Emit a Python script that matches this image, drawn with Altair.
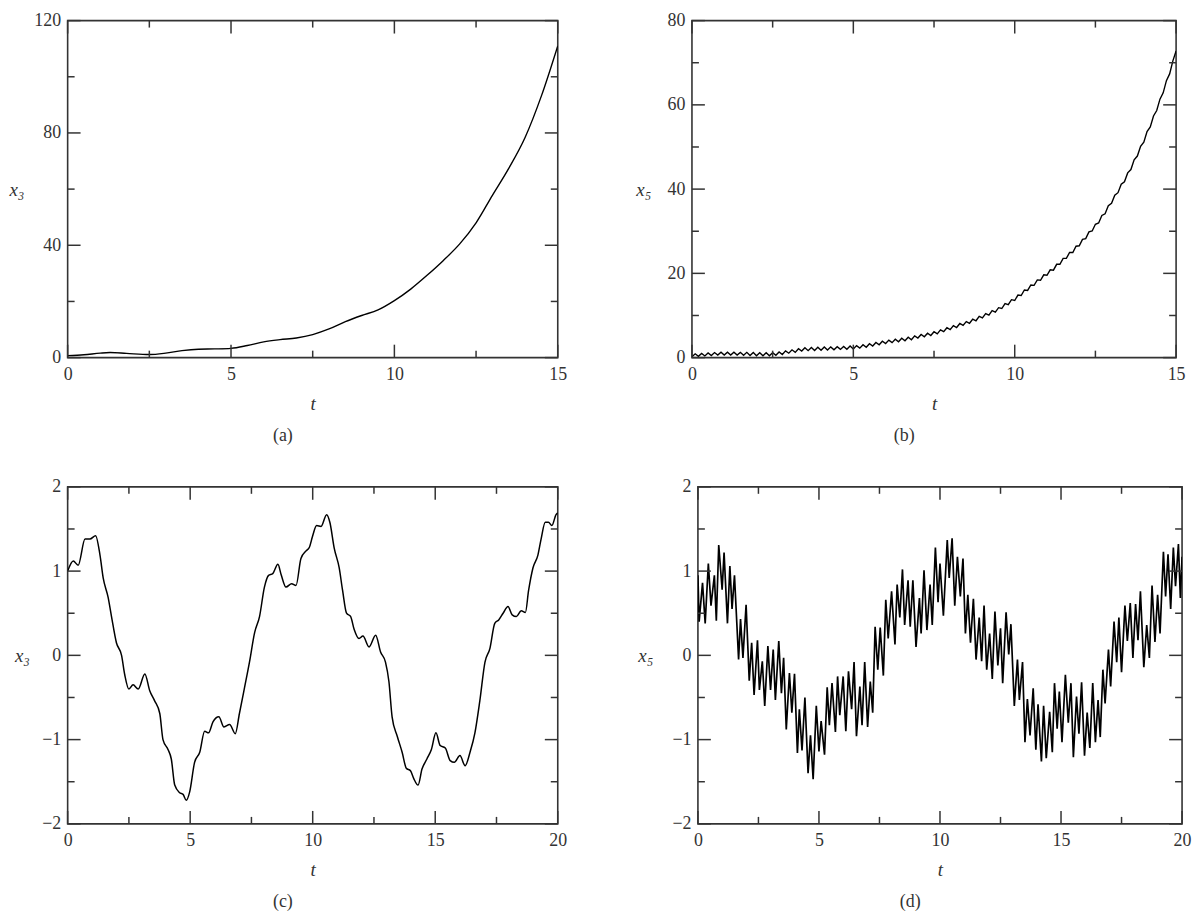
import altair as alt
import pandas as pd

FONT = "Liberation Serif"
INK = "#333333"
H = 339

# ---------------- panel (a): x3, long horizon ----------------
A_T = [0, 0.5, 1.0, 1.3, 1.8, 2.5, 3.0, 3.5, 4.0, 4.5, 5.0, 5.5, 6.0, 6.5, 7.0, 7.5,
       8.0, 8.5, 9.0, 9.5, 10.0, 10.5, 11.0, 11.5, 12.0, 12.5, 13.0, 13.5, 14.0, 14.5, 15.0]
A_Y = [0.7, 1.0, 1.6, 1.8, 1.5, 1.1, 1.6, 2.5, 3.0, 3.1, 3.3, 4.3, 5.6, 6.4, 7.0, 8.2,
       10.2, 12.8, 15.0, 17.0, 20.3, 24.4, 29.3, 34.6, 40.5, 48.0, 57.8, 67.4, 78.4, 93.2, 111.0]

# ---------------- panel (b): x5, long horizon ----------------
B_T = [0.0, 0.1, 0.2, 0.3, 0.4, 0.5, 0.6, 0.7, 0.8, 0.9, 1.0, 1.1, 1.2, 1.3, 1.4, 1.5, 1.6, 1.7, 1.8, 1.9,
       2.0, 2.1, 2.2, 2.3, 2.4, 2.5, 2.6, 2.7, 2.8, 2.9, 3.0, 3.1, 3.2, 3.3, 3.4, 3.5, 3.6, 3.7, 3.8, 3.9,
       4.0, 4.1, 4.2, 4.3, 4.4, 4.5, 4.6, 4.7, 4.8, 4.9, 5.0, 5.1, 5.2, 5.3, 5.4, 5.5, 5.6, 5.7, 5.8, 5.9,
       6.0, 6.1, 6.2, 6.3, 6.4, 6.5, 6.6, 6.7, 6.8, 6.9, 7.0, 7.1, 7.2, 7.3, 7.4, 7.5, 7.6, 7.7, 7.8, 7.9,
       8.0, 8.1, 8.2, 8.3, 8.4, 8.5, 8.6, 8.7, 8.8, 8.9, 9.0, 9.1, 9.2, 9.3, 9.4, 9.5, 9.6, 9.7, 9.8, 9.9,
       10.0, 10.1, 10.2, 10.3, 10.4, 10.5, 10.6, 10.7, 10.8, 10.9, 11.0, 11.1, 11.2, 11.3, 11.4, 11.5,
       11.6, 11.7, 11.8, 11.9, 12.0, 12.1, 12.2, 12.3, 12.4, 12.5, 12.6, 12.7, 12.8, 12.9, 13.0, 13.1,
       13.2, 13.3, 13.4, 13.5, 13.6, 13.7, 13.8, 13.9, 14.0, 14.1, 14.2, 14.3, 14.4, 14.5, 14.6, 14.7,
       14.8, 14.9, 15.0]
B_Y = [0.2, 0.9, 0.3, 1.0, 0.4, 1.1, 0.5, 1.2, 0.6, 1.3, 0.6, 1.3, 0.6, 1.3, 0.6, 1.25, 0.55, 1.25, 0.5, 1.2,
       0.45, 1.15, 0.45, 1.15, 0.45, 1.15, 0.55, 1.35, 0.75, 1.6, 1.05, 1.85, 1.25, 2.1, 1.55, 2.35, 1.65, 2.4, 1.7, 2.45,
       1.75, 2.5, 1.8, 2.55, 1.85, 2.6, 1.95, 2.65, 2.0, 2.75, 2.05, 2.85, 2.25, 3.05, 2.45, 3.3, 2.75, 3.6, 3.05, 3.9,
       3.35, 4.15, 3.55, 4.35, 3.75, 4.6, 4.0, 4.85, 4.25, 5.15, 4.65, 5.5, 4.95, 5.8, 5.25, 6.15, 5.65, 6.6, 6.15, 7.1,
       6.65, 7.6, 7.15, 8.1, 7.65, 8.55, 8.15, 9.15, 8.75, 9.8, 9.45, 10.45, 10.1, 11.15, 10.8, 11.85, 11.65, 12.8, 12.55, 13.75,
       13.55, 14.85, 14.75, 16.05, 15.95, 17.25, 17.15, 18.45, 18.35, 19.65, 19.55, 20.85, 20.75, 22.15, 22.15, 23.55,
       23.55, 24.95, 24.95, 26.45, 26.55, 28.05, 28.25, 29.85, 30.05, 31.65, 31.95, 33.75, 34.15, 36.05, 36.65, 38.55,
       39.15, 41.15, 41.75, 43.85, 44.65, 46.95, 47.85, 50.15, 51.15, 53.65, 54.75, 57.35, 58.65, 61.35, 62.85, 65.75,
       67.35, 70.45, 72.8]

# ---------------- panel (c): x3, periodic ----------------
C_T = [0, 0.23, 0.43, 0.71, 0.91, 1.14, 1.32, 1.45, 1.65, 1.79, 1.99, 2.2, 2.33, 2.5, 2.67, 2.88, 3.15, 3.35,
       3.55, 3.76, 3.89, 4.1, 4.23, 4.37, 4.57, 4.71, 4.84, 4.98, 5.18, 5.39, 5.59, 5.75, 5.93, 6.17, 6.38,
       6.61, 6.84, 7.01, 7.22, 7.42, 7.63, 7.83, 8.03, 8.2, 8.37, 8.58, 8.71, 8.91, 9.14, 9.32, 9.52, 9.73,
       9.86, 10.0, 10.16, 10.34, 10.57, 10.7, 10.88, 11.08, 11.22, 11.38, 11.55, 11.69, 11.89, 12.05, 12.3,
       12.57, 12.77, 12.97, 13.11, 13.24, 13.45, 13.65, 13.82, 13.99, 14.12, 14.3, 14.46, 14.66, 14.84,
       15.03, 15.2, 15.41, 15.61, 15.78, 16.01, 16.22, 16.42, 16.62, 16.82, 17.03, 17.23, 17.43, 17.59,
       17.77, 17.97, 18.14, 18.31, 18.51, 18.68, 18.81, 18.99, 19.19, 19.32, 19.49, 19.62, 19.76, 19.93, 20.0]
C_Y = [1.0, 1.12, 1.07, 1.38, 1.38, 1.42, 1.19, 0.92, 0.69, 0.46, 0.15, 0.0, -0.23, -0.40, -0.35, -0.40,
       -0.22, -0.42, -0.54, -0.69, -1.0, -1.12, -1.23, -1.54, -1.63, -1.65, -1.72, -1.62, -1.27, -1.15,
       -0.90, -0.92, -0.79, -0.73, -0.85, -0.82, -0.93, -0.69, -0.38, -0.08, 0.27, 0.46, 0.81, 0.95, 0.97,
       1.08, 0.96, 0.81, 0.85, 0.83, 1.15, 1.24, 1.28, 1.42, 1.54, 1.53, 1.67, 1.58, 1.27, 1.04, 0.77, 0.5,
       0.46, 0.31, 0.2, 0.23, 0.1, 0.24, 0.04, -0.08, -0.31, -0.73, -0.96, -1.15, -1.34, -1.37, -1.46,
       -1.54, -1.35, -1.23, -1.12, -0.92, -1.07, -1.1, -1.25, -1.27, -1.19, -1.31, -1.15, -0.92, -0.54,
       -0.08, 0.08, 0.38, 0.42, 0.5, 0.58, 0.48, 0.46, 0.53, 0.51, 0.77, 1.04, 1.19, 1.38, 1.58, 1.58,
       1.54, 1.67, 1.69]

# ---------------- panel (d): x5, periodic ----------------
D_T = [0.0, 0.05, 0.19, 0.30, 0.43, 0.54, 0.68, 0.76, 0.86, 1.00, 1.08, 1.22, 1.32, 1.41, 1.51, 1.68,
       1.76, 1.86, 1.99, 2.12, 2.22, 2.32, 2.46, 2.54, 2.66, 2.76, 2.89, 3.00, 3.11, 3.20, 3.34, 3.45,
       3.54, 3.65, 3.78, 3.88, 3.99, 4.11, 4.19, 4.30, 4.42, 4.55, 4.65, 4.76, 4.89, 5.00, 5.09, 5.23,
       5.34, 5.43, 5.54, 5.68, 5.77, 5.86, 6.00, 6.11, 6.22, 6.35, 6.45, 6.55, 6.69, 6.78, 6.89, 7.01,
       7.12, 7.22, 7.32, 7.43, 7.53, 7.66, 7.76, 7.86, 8.00, 8.14, 8.23, 8.34, 8.45, 8.54, 8.68, 8.77,
       8.88, 9.01, 9.15, 9.22, 9.34, 9.46, 9.59, 9.68, 9.81, 9.92, 10.00,
       10.14, 10.30, 10.38, 10.50, 10.61, 10.72, 10.84, 10.95, 11.05, 11.15, 11.26, 11.38, 11.49, 11.62,
       11.72, 11.82, 11.93, 12.05, 12.16, 12.27, 12.39, 12.50, 12.59, 12.73, 12.84, 12.93, 13.07, 13.20,
       13.28, 13.41, 13.51, 13.61, 13.72, 13.85, 13.96, 14.05, 14.19, 14.28, 14.39, 14.53, 14.64, 14.73,
       14.84, 14.93, 15.04, 15.18, 15.30, 15.41, 15.51, 15.64, 15.74, 15.85, 15.97, 16.08, 16.19, 16.31,
       16.42, 16.53, 16.62, 16.73, 16.82, 16.96, 17.05, 17.19, 17.30, 17.39, 17.50, 17.64, 17.74, 17.86,
       17.97, 18.08, 18.18, 18.28, 18.42, 18.54, 18.65, 18.76, 18.88, 18.99, 19.09, 19.23, 19.32, 19.42,
       19.53, 19.64, 19.73, 19.85, 19.93, 20.00]
D_Y = [0.95, 0.40, 0.86, 0.38, 1.09, 0.59, 0.95, 0.41, 1.31, 0.78, 1.22, 0.38, 1.06, 0.55, 0.95, -0.05,
       0.43, -0.03, 0.60, -0.30, 0.15, -0.47, 0.18, -0.41, -0.07, -0.60, 0.11, -0.41, 0.07, -0.53, 0.17, -0.45,
       -0.03, -0.88, -0.21, -0.68, -0.22, -1.16, -0.64, -1.13, -0.50, -1.40, -0.95, -1.47, -0.60, -1.14, -0.78, -1.18,
       -0.38, -0.83, -0.33, -0.91, -0.25, -0.71, -0.25, -0.90, -0.19, -0.64, -0.08, -0.96, -0.37, -0.83, -0.08, -0.85,
       -0.31, -0.68, 0.34, -0.17, 0.33, -0.24, 0.66, 0.20, 0.76, 0.13, 0.84, 0.45, 1.02, 0.36, 0.89, 0.34,
       0.89, 0.10, 0.68, 0.26, 1.01, 0.30, 0.84, 0.36, 1.28, 0.63, 1.09,
       0.47, 1.37, 0.92, 1.39, 0.59, 1.17, 0.70, 1.15, 0.26, 0.72, 0.15, 0.67, -0.05, 0.45,
       -0.07, 0.59, -0.17, 0.26, -0.28, 0.52, -0.12, 0.32, -0.33, 0.51, 0.01, 0.37, -0.60, -0.05,
       -0.53, -0.08, -1.03, -0.52, -0.95, -0.39, -1.12, -0.58, -1.26, -0.60, -1.22, -0.67, -1.15, -0.33,
       -0.87, -0.43, -1.03, -0.23, -0.80, -0.33, -1.21, -0.49, -0.93, -0.32, -1.19, -0.68, -1.10, -0.33,
       -1.03, -0.53, -0.97, -0.17, -0.57, 0.07, -0.37, 0.40, -0.08, 0.45, -0.20, 0.59, 0.17, 0.62,
       -0.03, 0.61, 0.18, 0.76, -0.14, 0.36, -0.03, 0.83, 0.16, 0.72, 0.26, 1.23, 0.70, 1.20,
       0.55, 1.28, 0.82, 1.32, 0.68, 1.17]

# ---------------- axis tick values ----------------
X15_MAJOR = [0, 5, 10, 15]
X15_MINOR = [2.5, 7.5, 12.5]
X20_MAJOR = [0, 5, 10, 15, 20]
X20_MINOR = [2.5, 7.5, 12.5, 17.5]
YA_MAJOR = [0, 40, 80, 120]
YA_MINOR = [20, 60, 100]
YB_MAJOR = [0, 20, 40, 60, 80]
YB_MINOR = [10, 30, 50, 70]
YC_MAJOR = [-2, -1, 0, 1, 2]
YC_MINOR = [-1.5, -0.5, 0.5, 1.5]

MAJOR_LEN = 13
MINOR_LEN = 7


def panel(t, v, W, xdom, xmaj, xmin, ydom, ymaj, ymin, ytitle, ytitle_x, label,
          interp, sw):
    df = pd.DataFrame({"t": t, "v": v})
    xs = alt.Scale(domain=xdom, nice=False, zero=False)
    ys = alt.Scale(domain=ydom, nice=False, zero=False)
    xax = alt.Axis(
        values=xmaj, ticks=False, domain=False, grid=False,
        labelFlush=False, labelPadding=8, labelFont=FONT,
        labelFontSize=18, labelColor=INK,
        title="t", titleFont=FONT, titleFontSize=19,
        titleFontStyle="italic", titleFontWeight="normal",
        titleColor=INK, titleY=46, titleBaseline="middle")
    yax = alt.Axis(
        values=ymaj, ticks=False, domain=False, grid=False,
        labelFlush=False, labelPadding=7, labelFont=FONT,
        labelFontSize=18, labelColor=INK,
        title=ytitle, titleFont=FONT, titleFontSize=19,
        titleFontStyle="italic", titleFontWeight="normal",
        titleColor=INK, titleAngle=0, titleX=ytitle_x, titleY=H / 2,
        titleAlign="center", titleBaseline="middle")

    line = alt.Chart(df).mark_line(color="black", strokeWidth=sw,
                                   interpolate=interp, clip=True).encode(
        x=alt.X("t:Q", scale=xs, axis=xax),
        y=alt.Y("v:Q", scale=ys, axis=yax),
    )

    layers = [line]
    for vals, ln in ((xmaj, MAJOR_LEN), (xmin, MINOR_LEN)):
        tdf = pd.DataFrame({"t": vals})
        for y0, y1 in ((H, H - ln), (0, ln)):
            layers.append(
                alt.Chart(tdf).mark_rule(color=INK, strokeWidth=1.5).encode(
                    x=alt.X("t:Q", scale=xs, axis=xax),
                    y=alt.value(y0), y2=alt.value(y1)))
    for vals, ln in ((ymaj, MAJOR_LEN), (ymin, MINOR_LEN)):
        tdf = pd.DataFrame({"v": vals})
        for x0, x1 in ((0, ln), (W, W - ln)):
            layers.append(
                alt.Chart(tdf).mark_rule(color=INK, strokeWidth=1.5).encode(
                    y=alt.Y("v:Q", scale=ys, axis=yax),
                    x=alt.value(x0), x2=alt.value(x1)))

    return alt.layer(*layers).properties(
        width=W, height=H,
        title=alt.TitleParams(label, orient="bottom", anchor="middle", dx=-30,
                              offset=14, font=FONT, fontSize=18,
                              fontWeight="normal", color=INK),
    )


pa = panel(A_T, A_Y, 493, [0, 15], X15_MAJOR, X15_MINOR, [0, 120], YA_MAJOR, YA_MINOR,
           "x₃", -51.5, "(a)", "monotone", 1.4)
pb = panel(B_T, B_Y, 487, [0, 15], X15_MAJOR, X15_MINOR, [0, 80], YB_MAJOR, YB_MINOR,
           "x₅", -49, "(b)", "linear", 1.4)
pc = panel(C_T, C_Y, 493, [0, 20], X20_MAJOR, X20_MINOR, [-2, 2], YC_MAJOR, YC_MINOR,
           "x₃", -46, "(c)", "monotone", 1.5)
pd_ = panel(D_T, D_Y, 487, [0, 20], X20_MAJOR, X20_MINOR, [-2, 2], YC_MAJOR, YC_MINOR,
            "x₅", -53, "(d)", "linear", 1.7)

row1 = alt.hconcat(pa, pb, spacing=67)
row2 = alt.hconcat(pc, pd_, spacing=69)

chart = alt.vconcat(row1, row2, spacing=31).properties(
    padding={"left": 0, "top": 0, "right": 0, "bottom": 0}
).configure(font=FONT).configure_view(stroke=INK, strokeWidth=1.6)

chart.save("out.html", embed_options={"renderer": "svg", "actions": False})
